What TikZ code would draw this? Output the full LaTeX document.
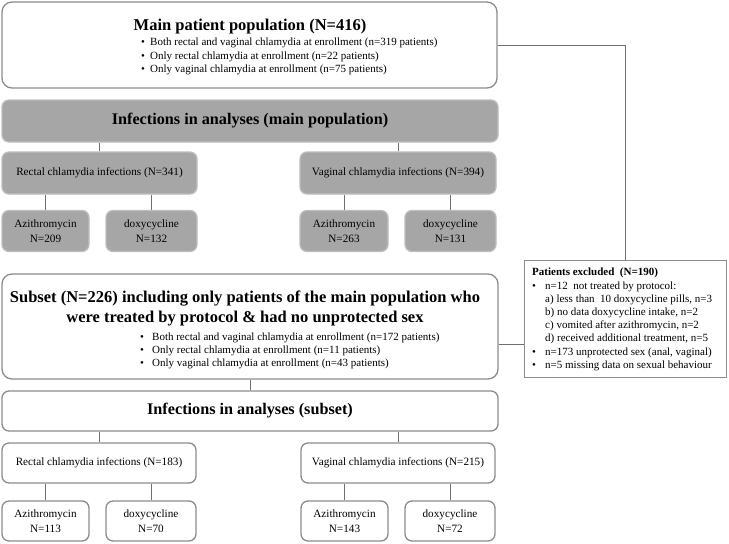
\documentclass[tikz,border=0pt]{standalone}
\usepackage{fontspec}
\setmainfont{Liberation Serif}
\usepackage{tikz}
\usepackage{color}

\definecolor{boxgray}{HTML}{8C8C8C}
\definecolor{fillgray}{HTML}{A6A6A6}
\definecolor{edgegray}{HTML}{BEBEBE}
\definecolor{linegray}{HTML}{707070}

\tikzset{
  whitebox/.style={draw=boxgray, line width=1.3pt, fill=white, rounded corners=7pt, inner sep=0pt},
  graybox/.style={draw=edgegray, line width=1.3pt, fill=fillgray, rounded corners=7pt, inner sep=0pt},
  link/.style={draw=linegray, line width=0.8pt},
  bigtitle/.style={font=\fontsize{16.5}{20}\selectfont\bfseries, align=center},
  midtitle/.style={font=\fontsize{16.2}{18}\selectfont\bfseries},
  listtext/.style={font=\fontsize{11}{13.2}\selectfont, align=left, inner sep=0pt},
  boxtext/.style={font=\fontsize{11.2}{15}\selectfont, align=center},
}
\newcommand{\bul}[1]{\makebox[#1][l]{\textbullet}}

\begin{document}
\begin{tikzpicture}[x=1pt, y=-1pt]
      \useasboundingbox (0,0) rectangle (729,544);

      % main population
      \node [whitebox, rounded corners=10pt, minimum width=495pt, minimum height=86pt] (main) at (249.5,45) {};
      \node [bigtitle] (maintitle) at (250,27) {Main patient population (N=416)};
      \node [listtext, anchor=north west] (mainlist) at (141,38) {%
        \bul{9pt}Both rectal and vaginal chlamydia at enrollment (n=319 patients)\\
        \bul{9pt}Only rectal chlamydia at enrollment (n=22 patients)\\
        \bul{9pt}Only vaginal chlamydia at enrollment (n=75 patients)};

      \node [graybox, minimum width=496pt, minimum height=42pt, midtitle] (band) at (250,121) {Infections in analyses (main population)};
      \node [graybox, minimum width=195pt, minimum height=42pt, boxtext] (rect) at (99.5,173) {Rectal chlamydia infections (N=341)};
      \node [graybox, minimum width=196pt, minimum height=42pt, boxtext] (vag) at (398,173) {Vaginal chlamydia infections (N=394)};
      \node [graybox, minimum width=87pt, minimum height=41pt, boxtext] (rectazi) at (45.5,231) {Azithromycin\\N=209};
      \node [graybox, minimum width=91pt, minimum height=41pt, boxtext] (rectdoxy) at (151.5,231) {doxycycline\\N=132};
      \node [graybox, minimum width=88pt, minimum height=41pt, boxtext] (vagazi) at (344,231) {Azithromycin\\N=263};
      \node [graybox, minimum width=91pt, minimum height=41pt, boxtext] (vagdoxy) at (450.5,231) {doxycycline\\N=131};

      \draw [link] (rect.north) -- (rect.north |- band.south);
      \draw [link] (vag.north) -- (vag.north |- band.south);
      \draw [link] (rectazi.north) -- (rectazi.north |- rect.south);
      \draw [link] (rectdoxy.north) -- (rectdoxy.north |- rect.south);
      \draw [link] (vagazi.north) -- (vagazi.north |- vag.south);
      \draw [link] (vagdoxy.north) -- (vagdoxy.north |- vag.south);

      % subset
      \node [whitebox, rounded corners=10pt, minimum width=496pt, minimum height=105pt] (subset) at (250,326.5) {};
      \node [bigtitle] (subtitle) at (245,308.5) {Subset (N=226) including only patients of the main population who\\were treated by protocol \& had no unprotected sex};
      \node [listtext, anchor=north west] (sublist) at (140,332.5) {%
        \bul{12pt}Both rectal and vaginal chlamydia at enrollment (n=172 patients)\\
        \bul{12pt}Only rectal chlamydia at enrollment (n=11 patients)\\
        \bul{12pt}Only vaginal chlamydia at enrollment (n=43 patients)};

      \node [whitebox, minimum width=496pt, minimum height=40pt, midtitle] (band2) at (250,411) {Infections in analyses (subset)};
      \node [whitebox, minimum width=194pt, minimum height=40pt, boxtext] (rect2) at (99,463) {Rectal chlamydia infections (N=183)};
      \node [whitebox, minimum width=194pt, minimum height=40pt, boxtext] (vag2) at (398,463) {Vaginal chlamydia infections (N=215)};
      \node [whitebox, minimum width=87pt, minimum height=40pt, boxtext] (rectazi2) at (45.5,521) {Azithromycin\\N=113};
      \node [whitebox, minimum width=90pt, minimum height=40pt, boxtext] (rectdoxy2) at (151,521) {doxycycline\\N=70};
      \node [whitebox, minimum width=87pt, minimum height=40pt, boxtext] (vagazi2) at (344.5,521) {Azithromycin\\N=143};
      \node [whitebox, minimum width=90pt, minimum height=40pt, boxtext] (vagdoxy2) at (450,521) {doxycycline\\N=72};

      \draw [link] (subset.south) -- (band2.north);
      \draw [link] (rect2.north) -- (rect2.north |- band2.south);
      \draw [link] (vag2.north) -- (vag2.north |- band2.south);
      \draw [link] (rectazi2.north) -- (rectazi2.north |- rect2.south);
      \draw [link] (rectdoxy2.north) -- (rectdoxy2.north |- rect2.south);
      \draw [link] (vagazi2.north) -- (vagazi2.north |- vag2.south);
      \draw [link] (vagdoxy2.north) -- (vagdoxy2.north |- vag2.south);

      % excluded patients
      \node [draw=boxgray, line width=0.8pt, fill=white, minimum width=202pt, minimum height=117pt, inner sep=0pt] (excl) at (625,318.5) {};
      \node [listtext, anchor=north west] (excllist) at (532,268) {%
        \textbf{Patients excluded ~(N=190)}\\
        \bul{13pt}n=12 ~not treated by protocol:\\
        \hspace*{13pt}a) less than ~10 doxycycline pills, n=3\\
        \hspace*{13pt}b) no data doxycycline intake, n=2\\
        \hspace*{13pt}c) vomited after azithromycin, n=2\\
        \hspace*{13pt}d) received additional treatment, n=5\\
        \bul{13pt}n=173 unprotected sex (anal, vaginal)\\
        \bul{13pt}n=5 missing data on sexual behaviour};

      \draw [link] (main.east) -| (excl.north);
      \draw [link] ([yshift=-17.5pt]subset.east) -- ([yshift=-25.5pt]excl.west);
\end{tikzpicture}
\end{document}
